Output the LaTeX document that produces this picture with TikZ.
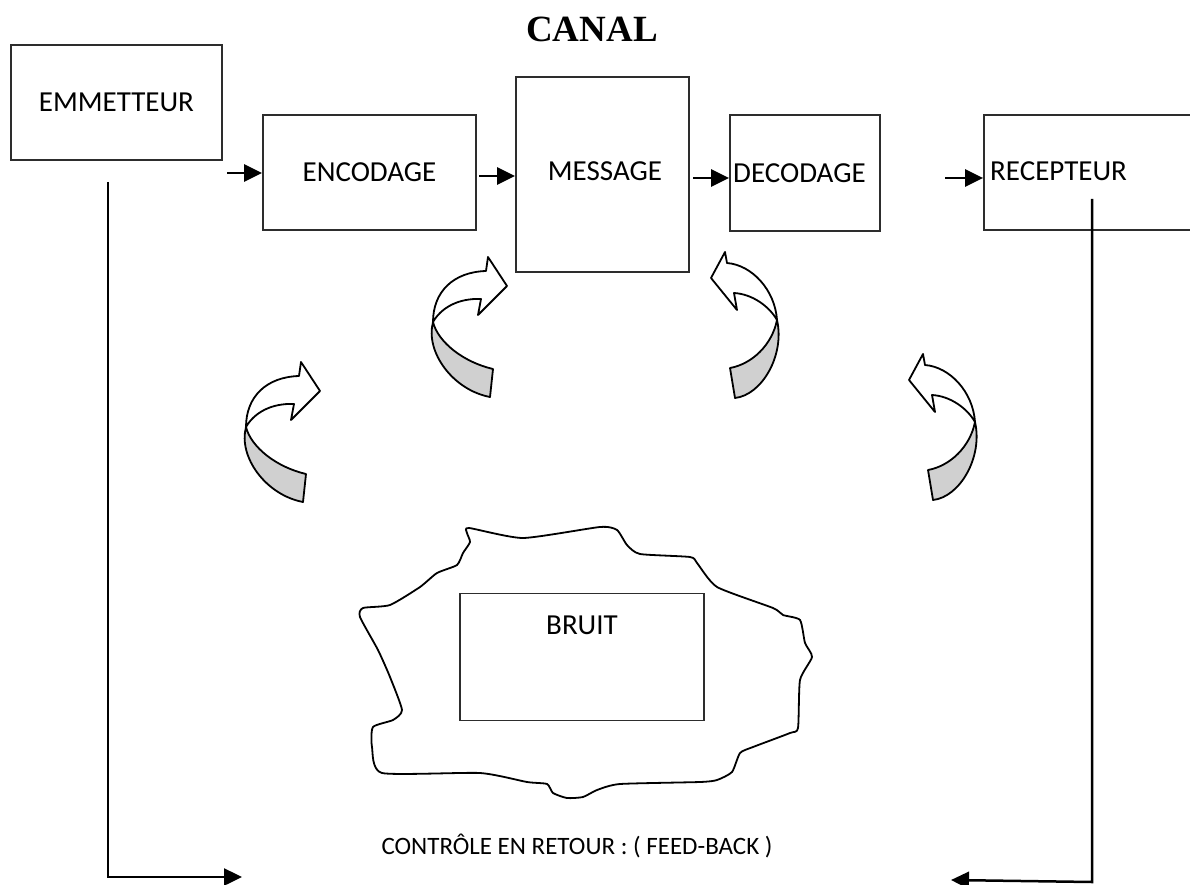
\documentclass[tikz,border=0pt]{standalone}
\usepackage{fontspec}
\setmainfont{Carlito}
\newfontfamily\timesfont{Liberation Serif}
\usetikzlibrary{arrows.meta}
\definecolor{bandgray}{RGB}{208,208,208}
\definecolor{boxline}{RGB}{45,45,45}
\tikzset{
  lblfont/.style={font=\fontsize{29}{35}\selectfont},
  box/.style={draw=boxline, line width=1.8pt, inner sep=0pt, lblfont},
  lbl/.style={inner sep=0pt, lblfont},
  conn/.style={line width=2.5pt, -{Triangle[length=18pt,width=17pt]}},
  arrwhite/.style={draw=black, line width=1.8pt, fill=white, line join=round},
  arrgray/.style={draw=black, line width=1.8pt, fill=bandgray, line join=round},
  cloudline/.style={draw=black, line width=1.8pt},
}
\begin{document}
\begin{tikzpicture}[x=1pt, y=-1pt]
\useasboundingbox (0,0) rectangle (1190,885);
\clip (0,0) rectangle (1190,885);

% title
\node[inner sep=0pt, anchor=base, font=\timesfont\bfseries\fontsize{37}{40}\selectfont] (canal) at (592,42) {CANAL};

% boxes
\node[box, minimum width=211pt, minimum height=115pt] (emm) at (116.5,102.5) {EMMETTEUR};
\node[box, minimum width=213pt, minimum height=115pt] (enc) at (369.5,172.5) {ENCODAGE};
\node[box, minimum width=173pt, minimum height=195pt] (msg) at (602.5,174.5) {};
\node[lbl] (msgt) at (605,171) {MESSAGE};
\node[box, minimum width=150pt, minimum height=116pt] (dec) at (805,173) {};
\node[lbl, anchor=west] (dect) at (733,173) {DECODAGE};
\node[box, minimum width=230pt, minimum height=115pt] (rec) at (1099,172.5) {};
\node[lbl, anchor=west] (rect) at (990,171) {RECEPTEUR};

% forward arrows
\coordinate (a1) at (227,173);
\coordinate (a2) at (479,176);
\coordinate (a3) at (693,178);
\coordinate (a4) at (945,178);
\draw[conn] (a1) -- (a1 -| enc.west);
\draw[conn] (a2) -- (a2 -| msg.west);
\draw[conn] (a3) -- (a3 -| dec.west);
\draw[conn] (a4) -- (a4 -| rec.west);

% curved 3D arrows (pointing right)
\foreach \px/\py in {433/322, 246/427}{
  \begin{scope}[shift={(\px,\py)}]
    \draw[arrgray] (0,0) .. controls (-8,30) and (20,68) .. (57,75) -- (60,47) .. controls (30,40) and (5,20) .. (0,0) -- cycle;
    \draw[arrwhite] (0,0) .. controls (0,-30) and (20,-50) .. (53,-51) -- (55,-65) -- (74,-36) -- (45,-7) -- (48,-23) .. controls (25,-24) and (8,-14) .. (0,0) -- cycle;
  \end{scope}
}
% curved 3D arrows (pointing left)
\foreach \px/\py in {777/320, 975/422}{
  \begin{scope}[shift={(\px,\py)}]
    \draw[arrgray] (0,0) .. controls (8,35) and (-15,75) .. (-42,78) -- (-47,48) .. controls (-25,44) and (-5,25) .. (0,0) -- cycle;
    \draw[arrwhite] (0,0) .. controls (-2,-30) and (-25,-55) .. (-50,-57) -- (-52,-68) -- (-66,-42) -- (-40,-10) -- (-43,-27) .. controls (-25,-26) and (-8,-14) .. (0,0) -- cycle;
  \end{scope}
}

% noise cloud
\draw[cloudline] plot[smooth cycle, tension=0.35] coordinates {
 (469,528) (523,538) (600,527) (617,530) (627,545) (640,554) (690,557) (697,563)
 (717,587) (773,608) (783,615) (800,620) (805,643) (812,657) (800,680) (798,728)
 (790,733) (753,747) (740,753) (732,772) (717,780) (700,782) (620,784) (597,790)
 (583,797) (567,798) (553,793) (547,784) (527,782) (480,773) (382,773) (372,747)
 (373,727) (393,720) (402,710) (390,677) (378,650) (360,617) (363,608) (390,605)
 (420,587) (437,573) (457,565) (463,553) (470,542) (467,533)};
\node[box, minimum width=244pt, minimum height=127pt] (bruit) at (582,657) {};
\node[lbl] (bruitt) at (582,625) {BRUIT};

% feedback
\coordinate (fl1) at (108,182);
\coordinate (fl2) at (108,877);
\coordinate (fl3) at (242,877);
\draw[conn] (fl1) -- (fl2) -- (fl3);
\coordinate (fr1) at (1092,199);
\coordinate (fr2) at (1092,882);
\coordinate (fr3) at (951,880);
\draw[conn] (fr1) -- (fr2) -- (fr3);
\node[inner sep=0pt, anchor=base, font=\fontsize{25}{30}\selectfont] (fb) at (577,854) {CONTRÔLE EN RETOUR : ( FEED-BACK )};
\end{tikzpicture}
\end{document}
